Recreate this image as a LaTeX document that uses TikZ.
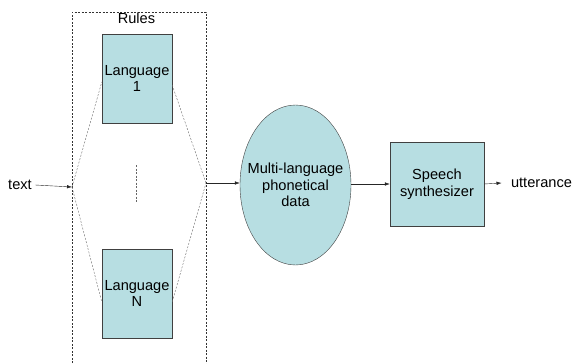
\documentclass[tikz,border=0pt]{standalone}
\usepackage{fontspec}
\setmainfont{Liberation Sans}
\usetikzlibrary{shapes.geometric,arrows.meta}
\definecolor{boxfill}{RGB}{183,222,226}

\begin{document}
\begin{tikzpicture}[x=1pt,y=-1pt,font=\fontsize{14.6}{16.5}\selectfont,
    block/.style={draw=black!75,fill=boxfill,align=center,inner sep=0pt},
    link/.style={draw=black!60,dash pattern=on 2pt off 1.5pt},
    flow/.style={draw=black!85,-{Latex[length=5pt,width=3.5pt]}}]
                \useasboundingbox (0,0) rectangle (573,364);
                % rules frame, open at the bottom
                \draw [black!80,dash pattern=on 2pt off 1.5pt] (72,370) -- (72,12) -- (206,12) -- (206,370);
                \node (rules) at (136.5,18) {Rules};
                \node [block,minimum width=70,minimum height=89] (lang1) at (137,78.5) {Language\\1};
                \node [block,minimum width=70,minimum height=89] (langN) at (137,293.5) {Language\\N};
                \draw [link] (136,165) -- (136,203);
                \coordinate (split) at (72,187);
                \coordinate (merge) at (206,183);
                \draw [link] (split) -- ([yshift=-3.5]lang1.west);
                \draw [link] (split) -- ([yshift=-8.5]langN.west);
                \draw [link] ([yshift=-6.5]lang1.east) -- (merge);
                \draw [link] ([yshift=-8.5]langN.east) -- (merge);
                \node [block,ellipse,inner xsep=-9pt,minimum width=111,minimum height=160] (phon) at (295.5,185) {Multi-language\\phonetical\\data};
                \node [block,minimum width=94,minimum height=84] (synth) at (437,184) {Speech\\synthesizer};
                \node (txt) at (20,185) {text};
                \node (utt) at (541.5,183) {utterance};
                \draw [flow] (txt.east) -- (split);
                \draw [flow] (merge) -- (phon.west |- merge);
                \draw [flow] (phon.east |- synth) -- (synth.west);
                \draw [flow] (synth.east) -- ([xshift=-6]utt.west);
            \end{tikzpicture}
\end{document}
